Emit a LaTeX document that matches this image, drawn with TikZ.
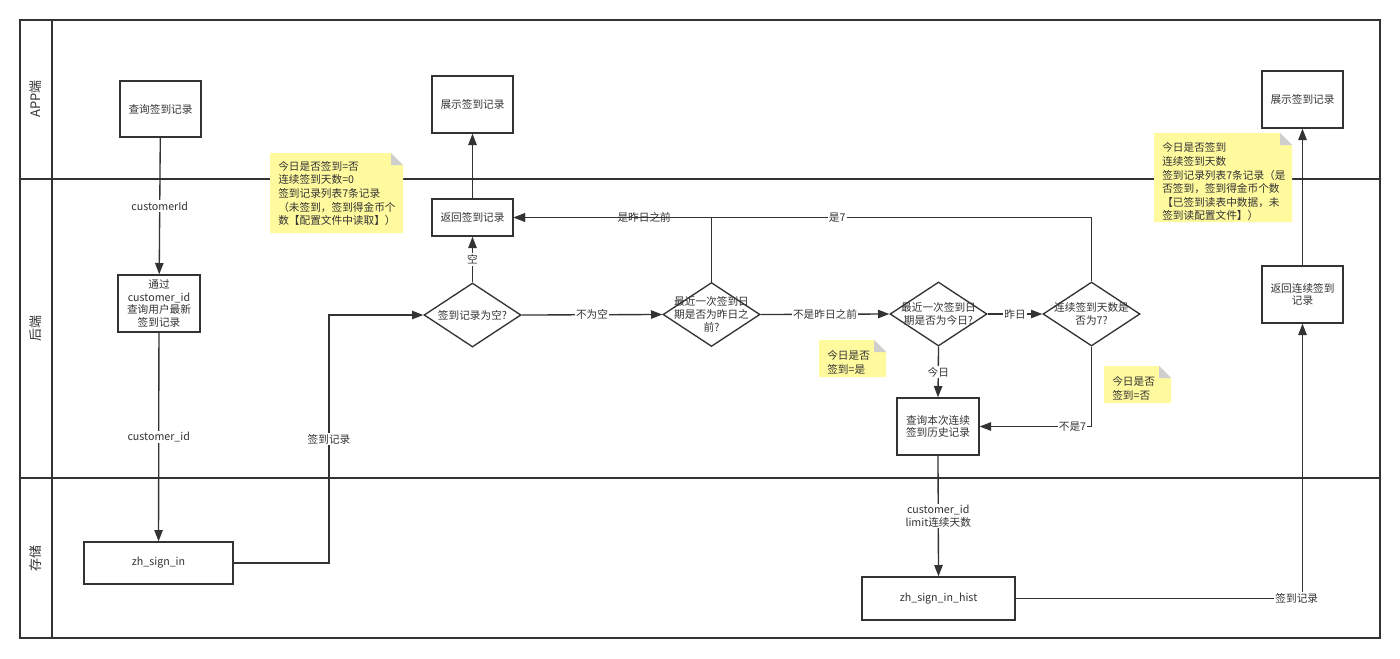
\documentclass[tikz,border=0pt]{standalone}
\usepackage{fontspec}
\setmainfont{Noto Sans CJK SC}
\usetikzlibrary{shapes.geometric,arrows.meta}
\definecolor{ln}{HTML}{333333}
\definecolor{txt}{HTML}{333333}
\definecolor{notey}{HTML}{FFFA9E}
\definecolor{notefold}{HTML}{CFCFCF}
\newcommand\drawnote[7]{% name, x0, y0, x1, y1, text x, text y
  \fill[notey] (#2,#3) -- ({#4-12},#3) -- (#4,{#3+12}) -- (#4,#5) -- (#2,#5) -- cycle;
  \fill[notefold] ({#4-12},#3) -- ({#4-12},{#3+12}) -- (#4,{#3+12}) -- cycle;
  \coordinate (#1) at (#6,#7);
}
\begin{document}
\begin{tikzpicture}[x=0.75pt,y=-0.75pt,
  every node/.style={text=txt, font=\fontsize{8pt}{9.5pt}\selectfont},
  box/.style={draw=ln, line width=1pt, fill=white, inner sep=1pt, align=center},
  dia/.style={draw=ln, line width=1pt, fill=white, diamond, inner sep=0pt, minimum width=72.75pt, minimum height=48pt},
  arr/.style={draw=ln, line width=1pt, -{Triangle[length=8.5pt,width=6.3pt]}},
  lbl/.style={fill=white, inner sep=1pt, align=center},
  lane/.style={draw=ln, line width=1.3pt},
  lanelbl/.style={rotate=90, font=\fontsize{9.75pt}{11pt}\selectfont},
  notetext/.style={align=left, inner sep=0pt, anchor=north west, font=\fontsize{8pt}{10.2pt}\selectfont}
]
\useasboundingbox (0,0) rectangle (1400,658);
\fill[white] (0,0) rectangle (1400,658);

% swimlanes
\draw[lane] (20,20) rectangle (1380,638);
\draw[lane] (52,20) -- (52,638);
\draw[lane] (20,179) -- (1380,179);
\draw[lane] (20,478) -- (1380,478);
\node[lanelbl] (lapp) at (36,99) {APP端};
\node[lanelbl] (lsrv) at (36,328) {后端};
\node[lanelbl] (lsto) at (36,558) {存储};

% notes (drawn over lane lines)
\drawnote{n1}{270}{153}{403}{233}{278}{161}
\node[notetext] (note1) at (n1) {今日是否签到=否\\连续签到天数=0\\签到记录列表7条记录\\（未签到，签到得金币个\\数【配置文件中读取】）};
\drawnote{n4}{1154}{133}{1292}{222}{1162}{142.5}
\node[notetext] (note4) at (n4) {今日是否签到\\连续签到天数\\签到记录列表7条记录（是\\否签到，签到得金币个数\\【已签到读表中数据，未\\签到读配置文件】）};
\drawnote{n2}{819}{340}{886}{377}{827}{350.5}
\node[notetext] (note2) at (n2) {今日是否\\签到=是};
\drawnote{n3}{1104}{366}{1171}{403}{1112}{376.5}
\node[notetext] (note3) at (n3) {今日是否\\签到=否};

% boxes
\node[box, minimum width=60.75pt, minimum height=42pt] (q1) at (160.5,109) {查询签到记录};
\node[box, minimum width=61.5pt, minimum height=42.75pt] (q2) at (159,303.5) {通过\\customer\_id\\查询用户最新\\签到记录};
\node[box, minimum width=111.75pt, minimum height=31.5pt] (db1) at (158.5,563) {zh\_sign\_in};
\node[box, minimum width=60.75pt, minimum height=42.75pt] (show1) at (472.5,104.5) {展示签到记录};
\node[box, minimum width=60.75pt, minimum height=27.75pt] (ret1) at (472.5,217.5) {返回签到记录};
\node[dia] (d1) at (472.5,315) {};
\node[dia] (d2) at (711.5,314.5) {};
\node[dia] (d3) at (938.5,314) {};
\node[dia] (d4) at (1091.5,314) {};
\node[align=center] (d1t) at (d1) {签到记录为空?};
\node[align=center] (d2t) at (d2) {最近一次签到日\\期是否为昨日之\\前?};
\node[align=center] (d3t) at (d3) {最近一次签到日\\期是否为今日?};
\node[align=center] (d4t) at (d4) {连续签到天数是\\否为7?};
\node[box, minimum width=61.5pt, minimum height=42.75pt] (q3) at (938,426.5) {查询本次连续\\签到历史记录};
\node[box, minimum width=114.75pt, minimum height=32.25pt] (db2) at (938.5,598.5) {zh\_sign\_in\_hist};
\node[box, minimum width=60.75pt, minimum height=42.75pt] (ret2) at (1302.5,294.5) {返回连续签到\\记录};
\node[box, minimum width=60.75pt, minimum height=42.75pt] (show2) at (1302.5,99.5) {展示签到记录};

% connectors
\draw[arr] (q1) -- node[lbl]{customerId} (q2);
\draw[arr] (q2) -- node[lbl]{customer\_id} (db1);
\draw[arr] (db1.east) -| node[lbl,pos=0.75]{签到记录} (329,315) -- (d1.west);
\draw[arr] (d1.north) -- node[lbl]{空} (ret1.south);
\draw[arr] (ret1.north) -- (show1.south);
\draw[arr] (d1.east) -- node[lbl]{不为空} (d2.west);
\draw[arr] (d2.north) |- node[lbl,pos=0.67]{是昨日之前} (ret1.east);
\draw[arr] (d4.north) |- node[lbl,pos=0.72]{是7} (ret1.east);
\draw[arr] (d2.east) -- node[lbl]{不是昨日之前} (d3.west);
\draw[arr] (d3.east) -- node[lbl]{昨日} (d4.west);
\draw[arr] (d3.south) -- node[lbl]{今日} (q3.north);
\draw[arr] (d4.south) |- node[lbl,pos=0.585]{不是7} (q3.east);
\draw[arr] (q3.south) -- node[lbl]{customer\_id\\limit连续天数} (db2.north);
\draw[arr] (db2.east) -| node[lbl,pos=0.49]{签到记录} (ret2.south);
\draw[arr] (ret2.north) -- (show2.south);
\end{tikzpicture}
\end{document}
